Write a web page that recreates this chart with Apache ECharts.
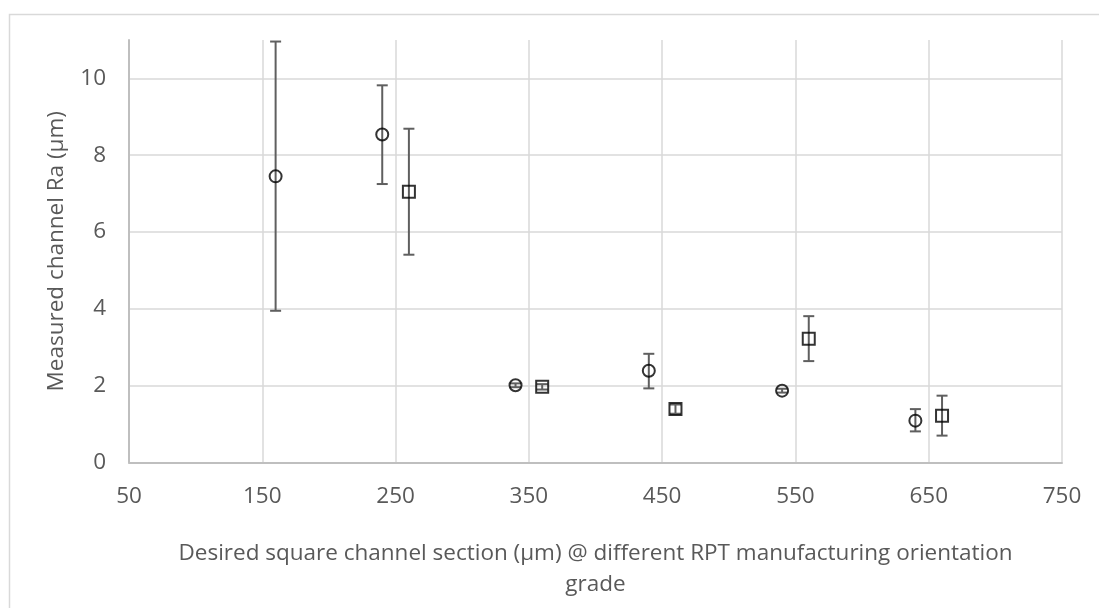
<!DOCTYPE html>
<html>
<head>
<meta charset="utf-8">
<script src="https://cdn.jsdelivr.net/npm/echarts@6/dist/echarts.min.js"></script>
<style>
html,body{margin:0;padding:0;background:#fff;}
#c{width:1099px;height:608px;}
</style>
</head>
<body>
<div id="c"></div>
<script>
// Series A (circles)
const circleX = [160, 240, 340, 440, 540, 640];
const circleY = [7.45, 8.54, 2.01, 2.39, 1.87, 1.09];
const circleLow = [3.95, 7.25, 1.96, 1.93, 1.82, 0.81];
const circleHigh = [10.96, 9.82, 2.06, 2.83, 1.92, 1.39];
// Series B (squares)
const squareX = [260, 360, 460, 560, 660];
const squareY = [7.05, 1.97, 1.39, 3.22, 1.22];
const squareLow = [5.41, 1.90, 1.27, 2.64, 0.70];
const squareHigh = [8.69, 2.04, 1.51, 3.81, 1.74];

const xTitle = 'Desired square channel section (μm) @ different RPT manufacturing orientation\ngrade';
const yTitle = 'Measured channel Ra (μm)';

const FONT = 'Open Sans';
const TXT = '#595959';
const FS = 22.5;

function errData(xs, lo, hi) {
  return xs.map((x, i) => [x, lo[i], hi[i]]);
}
function errRender(params, api) {
  const x = api.value(0);
  const p1 = api.coord([x, api.value(1)]);
  const p2 = api.coord([x, api.value(2)]);
  const w = 5.5;
  const style = {stroke: '#5f5f5f', lineWidth: 2};
  return {
    type: 'group',
    children: [
      {type: 'line', shape: {x1: p1[0], y1: p1[1], x2: p2[0], y2: p2[1]}, style},
      {type: 'line', shape: {x1: p1[0] - w, y1: p1[1], x2: p1[0] + w, y2: p1[1]}, style},
      {type: 'line', shape: {x1: p2[0] - w, y1: p2[1], x2: p2[0] + w, y2: p2[1]}, style}
    ]
  };
}

const chart = echarts.init(document.getElementById('c'));
chart.setOption({
  animation: false,
  backgroundColor: '#fff',
  textStyle: {fontFamily: FONT},
  graphic: [{
    type: 'rect', left: 7, top: 12, z: -10,
    shape: {width: 1200, height: 700},
    style: {fill: 'none', stroke: '#d9d9d9', lineWidth: 1.5}
  }],
  grid: {left: 129, right: 37, top: 40, bottom: 145.5},
  xAxis: {
    type: 'value', min: 50, max: 750, interval: 100,
    axisLine: {show: true, lineStyle: {color: '#bfbfbf', width: 2}},
    axisTick: {show: false},
    axisLabel: {color: TXT, fontSize: FS, margin: 23, fontFamily: FONT},
    splitLine: {show: true, showMinLine: false, lineStyle: {color: '#d9d9d9', width: 1.5}},
    name: xTitle, nameLocation: 'middle', nameGap: 76,
    nameTextStyle: {color: TXT, fontSize: FS, lineHeight: 31, fontFamily: FONT}
  },
  yAxis: {
    type: 'value', min: 0, max: 11, interval: 2,
    axisLine: {show: true, lineStyle: {color: '#bfbfbf', width: 2}},
    axisTick: {show: false},
    axisLabel: {color: TXT, fontSize: FS, margin: 23, showMaxLabel: false, fontFamily: FONT},
    splitLine: {show: true, showMinLine: false, showMaxLine: false, lineStyle: {color: '#d9d9d9', width: 1.5}},
    name: yTitle, nameLocation: 'middle', nameGap: 61, nameRotate: 90,
    nameTextStyle: {color: TXT, fontSize: FS, fontFamily: FONT}
  },
  series: [
    {type: 'custom', renderItem: errRender, data: errData(circleX, circleLow, circleHigh), z: 2, silent: true},
    {type: 'custom', renderItem: errRender, data: errData(squareX, squareLow, squareHigh), z: 2, silent: true},
    {
      type: 'scatter', symbol: 'circle', symbolSize: 12, z: 3,
      data: circleX.map((x, i) => [x, circleY[i]]),
      itemStyle: {color: 'rgba(0,0,0,0)', borderColor: '#000', borderWidth: 2}
    },
    {
      type: 'scatter', symbol: 'rect', symbolSize: 12, z: 3,
      data: squareX.map((x, i) => [x, squareY[i]]),
      itemStyle: {color: 'rgba(0,0,0,0)', borderColor: '#000', borderWidth: 2}
    }
  ]
});
</script>
</body>
</html>
